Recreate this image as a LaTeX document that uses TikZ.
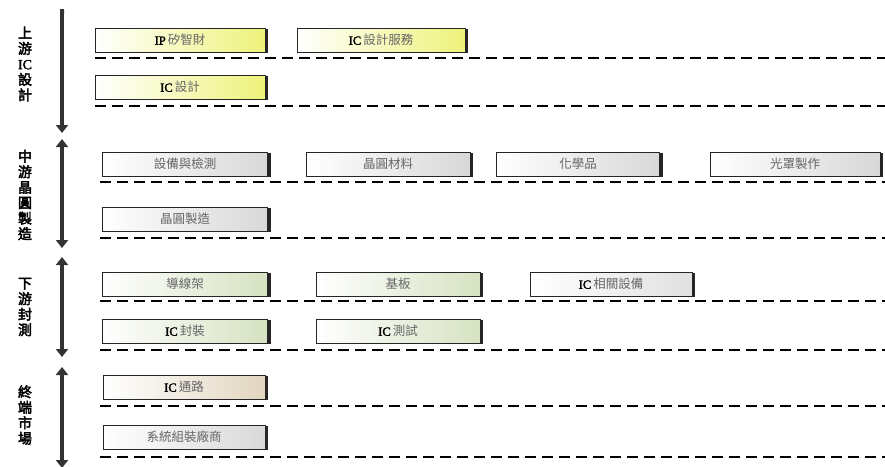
\documentclass[tikz,border=0pt]{standalone}
\usepackage{fontspec}
\usepackage{xcolor}
\usepackage{tikz}
\usetikzlibrary{positioning,calc,arrows.meta,shadows}
\newfontfamily\cjk{Noto Sans CJK TC}
\newfontfamily\cjkbold{Noto Sans CJK TC}[FakeBold=3]
\newfontfamily\latinbold{Liberation Serif}[FakeBold=2]

\definecolor{upfill}{HTML}{EEF27A}
\definecolor{midfill}{HTML}{D8D8D8}
\definecolor{downfill}{HTML}{D6E2C2}
\definecolor{endfill}{HTML}{E2D6C0}

\newcommand{\ic}{{\latinbold\color{black}IC}\,}

\begin{document}
\begin{tikzpicture}[
  x=1pt, y=-1pt,
  chainbox/.style={draw=black!85, line width=0.9pt, minimum height=24pt, inner sep=1pt,
    font=\cjk\fontsize{12.5}{13}\selectfont, text=black!60,
    drop shadow={shadow xshift=3pt, shadow yshift=-1.2pt, opacity=1, fill=black!85}},
  upbox/.style={chainbox, left color=white, right color=upfill},
  midbox/.style={chainbox, left color=white, right color=midfill},
  downbox/.style={chainbox, left color=white, right color=downfill},
  endbox/.style={chainbox, left color=white, right color=endfill},
  stage/.style={align=center, font=\cjkbold\fontsize{14}{15.5}\selectfont, inner sep=0pt},
  flow/.style={line width=4pt, draw=black!80, {Triangle[width=12pt,length=8pt]}-{Triangle[width=12pt,length=8pt]}},
  sep/.style={line width=1.7pt, dash pattern=on 11pt off 6pt}
]
\useasboundingbox (0,0) rectangle (885,466);

% stage labels
\node[stage] (upstream) at (25,64) {上\\游\\{\latinbold IC}\\設\\計};
\node[stage] (midstream) at (25,195) {中\\游\\晶\\圓\\製\\造};
\node[stage] (downstream) at (25,307) {下\\游\\封\\測};
\node[stage] (market) at (25,415) {終\\端\\市\\場};

% stage arrows
\coordinate (uptop) at (62,9);
\coordinate (upbot) at (62,133);
\coordinate (midtop) at (62,139);
\coordinate (midbot) at (62,248);
\coordinate (downtop) at (62,257);
\coordinate (downbot) at (62,357);
\coordinate (endtop) at (62,367);
\coordinate (endbot) at (62,468);
\draw[flow, {Butt Cap}-{Triangle[width=12pt,length=8pt]}] (uptop) -- (upbot);
\draw[flow] (midtop) -- (midbot);
\draw[flow] (downtop) -- (downbot);
\draw[flow] (endtop) -- (endbot);

% upstream
\node[upbox, minimum width=170pt] (ip) at (180,40) {{\latinbold\color{black}IP}\,矽智財};
\node[upbox, minimum width=168pt] (icservice) at (381,40) {\ic 設計服務};
\node[upbox, minimum width=170pt] (icdesign) at (180,87) {\ic 設計};

% midstream
\node[midbox, minimum width=165pt] (equip) at (185,164) {設備與檢測};
\node[midbox, minimum width=164pt] (wafermat) at (388,164) {晶圓材料};
\node[midbox, minimum width=163pt] (chem) at (578,164) {化學品};
\node[midbox, minimum width=170pt] (mask) at (795,164) {光罩製作};
\node[midbox, minimum width=165pt] (fab) at (185,219) {晶圓製造};

% downstream
\node[downbox, minimum width=165pt] (leadframe) at (185,284) {導線架};
\node[downbox, minimum width=164pt] (substrate) at (398,284) {基板};
\node[chainbox, left color=white, right color=black!12, minimum width=162pt] (testequip) at (611,284) {\ic 相關設備};
\node[downbox, minimum width=165pt] (package) at (185,331) {\ic 封裝};
\node[downbox, minimum width=164pt] (testing) at (398,331) {\ic 測試};

% end market
\node[endbox, minimum width=162pt] (channel) at (184,387) {\ic 通路};
\node[chainbox, left color=white, right color=black!15, minimum width=162pt] (system) at (184,437) {系統組裝廠商};

% separators
\foreach \yy in {58,106} \draw[sep] (95,\yy) -- (885,\yy);
\foreach \yy in {182,238,301,350,406,457} \draw[sep] (100,\yy) -- (885,\yy);
\end{tikzpicture}
\end{document}
